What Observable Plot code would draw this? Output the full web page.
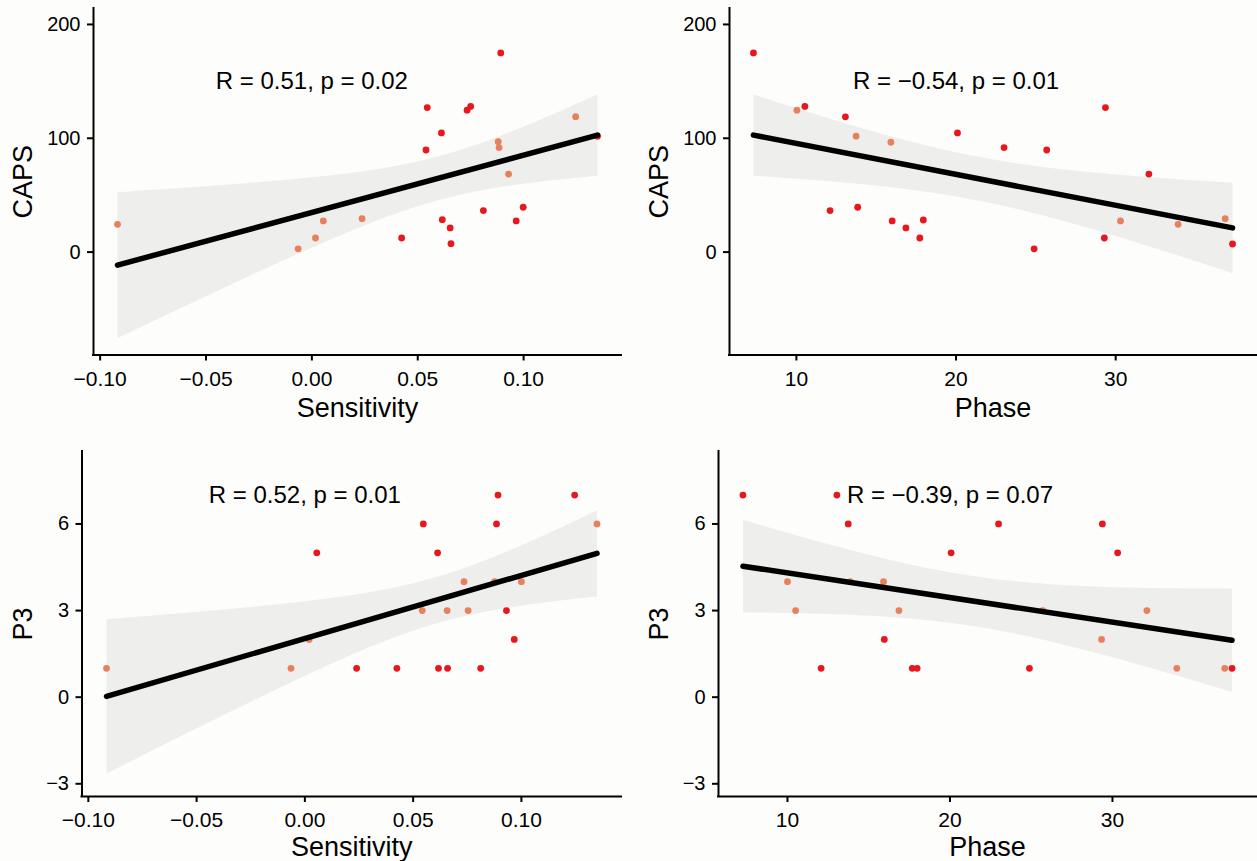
<!DOCTYPE html>
<html>
<head>
<meta charset="utf-8">
<script src="https://cdn.jsdelivr.net/npm/d3@7"></script>
<script src="https://cdn.jsdelivr.net/npm/@observablehq/plot@0.6"></script>
<style>
  html, body { margin: 0; padding: 0; background: #fdfdfb; }
  #wrap { position: relative; width: 1257px; height: 861px; overflow: hidden; background: #fdfdfb; }
  #wrap svg { position: absolute; background: transparent; }
</style>
</head>
<body>
<div id="wrap"></div>
<script>
// ---- data ----
// Panel A: Sensitivity vs CAPS
const sensA = [-0.0918, -0.0065, 0.0017, 0.0054, 0.0237, 0.0424, 0.0539, 0.0545, 0.0612, 0.0616, 0.0653, 0.0657, 0.0733, 0.0750, 0.0810, 0.0880, 0.0884, 0.0892, 0.0929, 0.0965, 0.0998, 0.1246, 0.1349];
const capsA = [24.4, 2.9, 12.4, 27.4, 29.4, 12.4, 89.7, 127, 104.7, 28.5, 21.2, 7.4, 124.7, 128, 36.5, 97, 91.8, 175, 68.5, 27.4, 39.4, 119, 101.8];
const grpA  = ["O","O","O","O","O","R","R","R","R","R","R","R","R","R","R","O","O","R","O","R","R","O","R"];

// Panel B: Phase vs CAPS
const phaseB = [7.31, 10.03, 10.53, 13.07, 13.74, 12.11, 13.84, 15.92, 16.0, 16.86, 17.95, 17.73, 20.09, 23.01, 24.89, 25.68, 29.36, 29.29, 30.3, 32.08, 33.91, 36.86, 37.32];
const capsB  = [175, 124.7, 128, 118.8, 101.8, 36.5, 39.4, 96.5, 27.4, 21.2, 28.2, 12.4, 104.7, 91.8, 2.9, 89.7, 127, 12.4, 27.4, 68.5, 24.4, 29.4, 7.1];
const grpB   = ["R","O","R","R","O","R","R","O","R","R","R","R","R","R","R","R","R","R","O","R","O","O","R"];

// Panel C: Sensitivity vs P3
const sensC = [-0.0916, -0.0064, 0.0020, 0.0055, 0.0239, 0.0425, 0.0542, 0.0547, 0.0613, 0.0617, 0.0657, 0.0659, 0.0735, 0.0754, 0.0812, 0.0876, 0.0885, 0.0892, 0.0931, 0.0967, 0.1000, 0.1246, 0.1349];
const p3C   = [1, 1, 2, 5, 1, 1, 3, 6, 5, 1, 3, 1, 4, 3, 1, 4, 6, 7, 3, 2, 4, 7, 6];
const grpC  = ["O","O","O","R","R","R","O","R","R","R","O","R","O","O","R","O","R","R","R","R","O","R","O"];

// Panel D: Phase vs P3
const phaseD = [7.26, 10.0, 10.5, 12.07, 13.04, 13.74, 13.87, 15.91, 15.96, 16.86, 17.68, 17.98, 20.07, 22.99, 24.89, 25.71, 29.38, 29.33, 30.32, 32.12, 33.96, 36.91, 37.36];
const p3D    = [7, 4, 3, 1, 7, 6, 4, 4, 2, 3, 1, 1, 5, 6, 1, 3, 6, 2, 5, 3, 1, 1, 1];
const grpD   = ["R","O","O","R","R","R","O","O","R","O","R","R","R","R","R","O","R","O","R","O","O","O","R"];

// annotations
const labels = ["R = 0.51, p = 0.02", "R = \u22120.54, p = 0.01", "R = 0.52, p = 0.01", "R = \u22120.39, p = 0.07"];
const labelX = [0, 20, 0, 20];
const labelY = [150, 150, 7, 7];

// ticks and limits
const sensTicks = [-0.10, -0.05, 0.00, 0.05, 0.10];
const phaseTicks = [10, 20, 30];
const capsTicks = [0, 100, 200];
const p3Ticks = [-3, 0, 3, 6];
const capsLimits = [-90.4, 214];
const p3Limits = [-3.44, 8.51];

// ---- drawing ----
const FONT = "'Liberation Sans', Arial, Helvetica, sans-serif";
const groupColors = {R: "#e8161d", O: "#e8805e"};
const bandColor = "#eeeeec";

function expand(vals) {
  const [a, b] = d3.extent(vals);
  const e = (b - a) * 0.05;
  return [a - e, b + e];
}

function panel(cfg) {
  const data = cfg.x.map((v, i) => ({x: v, y: cfg.y[i], g: cfg.g[i]}));
  const xdom = expand(cfg.x);
  const svg = Plot.plot({
    width: cfg.width,
    height: cfg.height,
    marginLeft: cfg.ml,
    marginRight: cfg.mr,
    marginTop: cfg.mt,
    marginBottom: cfg.mb,
    style: {fontFamily: FONT, fontSize: "20px", background: "transparent", color: "black", overflow: "visible"},
    x: {domain: xdom},
    y: {domain: cfg.ylim},
    color: {domain: ["R", "O"], range: [groupColors.R, groupColors.O]},
    marks: [
      Plot.linearRegressionY(data, {x: "x", y: "y", ci: 0.95, stroke: "none", fill: bandColor, fillOpacity: 1}),
      Plot.dot(data, {x: "x", y: "y", r: 3.4, fill: "g", stroke: "none"}),
      Plot.linearRegressionY(data, {x: "x", y: "y", ci: 0, stroke: "black", strokeWidth: 5.5}),
      Plot.text([cfg.label], {x: cfg.lx, y: cfg.ly, text: d => d, fontSize: 24, fill: "black"}),
      Plot.axisX({ticks: cfg.xticks, tickFormat: cfg.xfmt, tickSize: 6, tickPadding: 10, strokeWidth: 2, fontSize: 21, label: null, fill: "black", stroke: "black"}),
      Plot.axisY({ticks: cfg.yticks, tickFormat: d3.format("d"), tickSize: 6, tickPadding: 7, strokeWidth: 2, fontSize: 20, label: null, fill: "black", stroke: "black"}),
      Plot.ruleY([cfg.ylim[0]], {stroke: "black", strokeWidth: 2, x1: xdom[0], x2: xdom[1], strokeLinecap: "square"}),
      Plot.ruleX([xdom[0]], {stroke: "black", strokeWidth: 2, y1: cfg.ylim[0], y2: cfg.ylim[1], strokeLinecap: "square"}),
      Plot.text([cfg.xlab], {frameAnchor: "bottom", dy: cfg.xdy, text: d => d, fontSize: 27, textAnchor: "middle", lineAnchor: "middle", fill: "black"}),
      Plot.text([cfg.ylab], {frameAnchor: "left", dx: cfg.ydx, rotate: -90, text: d => d, fontSize: 27, textAnchor: "middle", lineAnchor: "middle", fill: "black"})
    ]
  });
  svg.style.left = cfg.left + "px";
  svg.style.top = cfg.top + "px";
  document.getElementById("wrap").appendChild(svg);
}

const fmt2 = d3.format(".2f");
const fmtInt = d3.format("d");

panel({left: 0, top: 0, width: 628, height: 430, ml: 93, mr: 7, mt: 8, mb: 75.5,
  x: sensA, y: capsA, g: grpA, ylim: capsLimits, xticks: sensTicks, yticks: capsTicks, xfmt: fmt2,
  label: labels[0], lx: labelX[0], ly: labelY[0], xlab: "Sensitivity", ylab: "CAPS", xdy: 53, ydx: -70.5});

panel({left: 628, top: 0, width: 629, height: 430, ml: 101, mr: 1, mt: 8, mb: 75.5,
  x: phaseB, y: capsB, g: grpB, ylim: capsLimits, xticks: phaseTicks, yticks: capsTicks, xfmt: fmtInt,
  label: labels[1], lx: labelX[1], ly: labelY[1], xlab: "Phase", ylab: "CAPS", xdy: 53, ydx: -70.5});

panel({left: 0, top: 430, width: 628, height: 431, ml: 81.5, mr: 7, mt: 21, mb: 65,
  x: sensC, y: p3C, g: grpC, ylim: p3Limits, xticks: sensTicks, yticks: p3Ticks, xfmt: fmt2,
  label: labels[2], lx: labelX[2], ly: labelY[2], xlab: "Sensitivity", ylab: "P3", xdy: 51, ydx: -59});

panel({left: 628, top: 430, width: 629, height: 431, ml: 90, mr: 1, mt: 21, mb: 65,
  x: phaseD, y: p3D, g: grpD, ylim: p3Limits, xticks: phaseTicks, yticks: p3Ticks, xfmt: fmtInt,
  label: labels[3], lx: labelX[3], ly: labelY[3], xlab: "Phase", ylab: "P3", xdy: 51, ydx: -59});
</script>
</body>
</html>
